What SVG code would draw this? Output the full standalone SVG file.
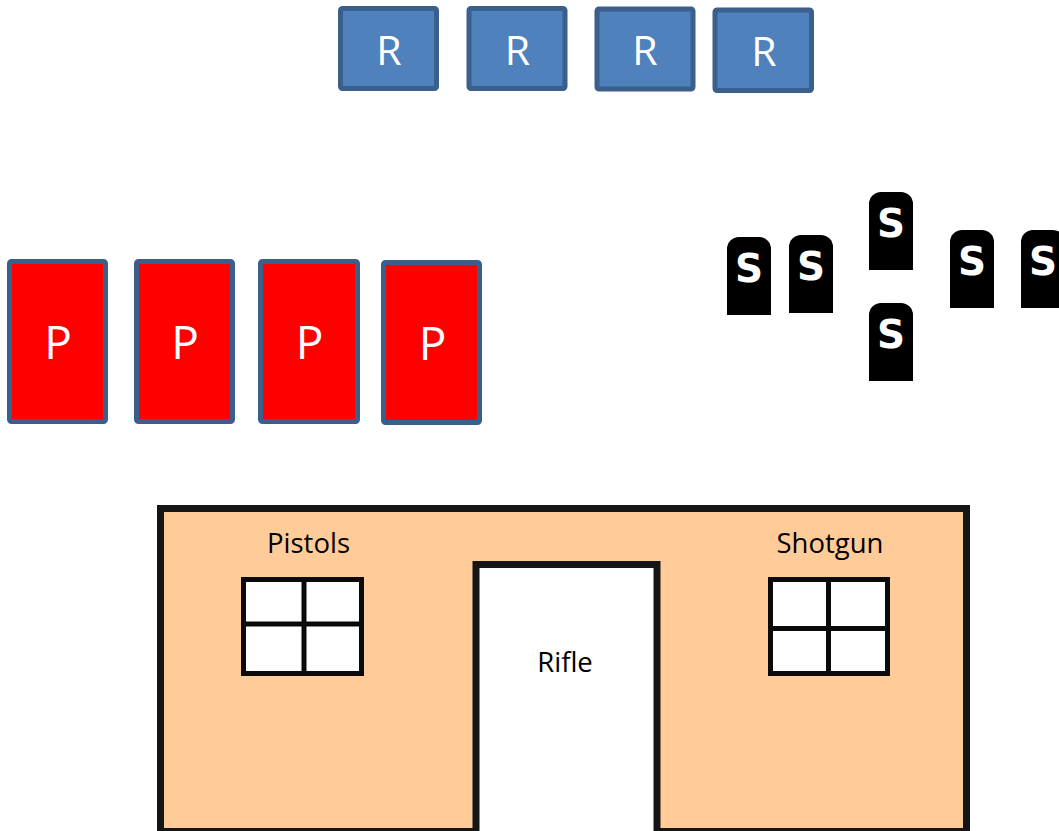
<svg xmlns="http://www.w3.org/2000/svg" width="1059" height="831" viewBox="0 0 1059 831">
  <style>
    .rbox { fill: #4F81BD; stroke: #3A5F8B; stroke-width: 5; }
    .pbox { fill: #FF0000; stroke: #3A5F8B; stroke-width: 5; }
    .rtxt { font-family: "Open Sans", "Liberation Sans", sans-serif; font-size: 41px; fill: #FFFFFF; text-anchor: middle; }
    .ptxt { font-family: "Open Sans", "Liberation Sans", sans-serif; font-size: 46px; fill: #FFFFFF; text-anchor: middle; }
    .stone { fill: #000000; }
    .stxt { font-family: "DejaVu Sans", "Liberation Sans", sans-serif; font-weight: bold; font-size: 39px; fill: #FFFFFF; text-anchor: middle; }
    .wall { fill: #FFCC99; stroke: #151515; stroke-width: 7; }
    .door { fill: #FFFFFF; stroke: #151515; stroke-width: 7; }
    .win { fill: #FFFFFF; stroke: #0A0A0A; stroke-width: 5; }
    .bar { stroke: #0A0A0A; stroke-width: 5; }
    .lbl { font-family: "Open Sans", "Liberation Sans", sans-serif; font-size: 27.5px; fill: #000000; text-anchor: middle; }
  </style>
  <defs>
    <!-- tombstone-shaped target with rounded top -->
    <path id="stoneShape" d="M0,78 V12 A12,12 0 0 1 12,0 H32 A12,12 0 0 1 44,12 V78 Z"/>
  </defs>

  <!-- rifle targets -->
  <g id="r1"><rect class="rbox" x="340.5" y="8.5" width="96" height="80" rx="2"/><text class="rtxt" x="389" y="65">R</text></g>
  <g id="r2"><rect class="rbox" x="469" y="8.5" width="96" height="80" rx="2"/><text class="rtxt" x="517.5" y="65">R</text></g>
  <g id="r3"><rect class="rbox" x="597" y="9" width="96" height="80" rx="2"/><text class="rtxt" x="645" y="65">R</text></g>
  <g id="r4"><rect class="rbox" x="715" y="10" width="96.5" height="80.5" rx="2"/><text class="rtxt" x="764" y="66">R</text></g>

  <!-- pistol targets -->
  <g id="p1"><rect class="pbox" x="9.5" y="261.5" width="96" height="160" rx="2"/><text class="ptxt" x="58" y="359">P</text></g>
  <g id="p2"><rect class="pbox" x="136.5" y="261.5" width="96" height="160" rx="2"/><text class="ptxt" x="185" y="359">P</text></g>
  <g id="p3"><rect class="pbox" x="260.5" y="261.5" width="97" height="160" rx="2"/><text class="ptxt" x="309.5" y="359">P</text></g>
  <g id="p4"><rect class="pbox" x="383.5" y="262.5" width="96" height="160" rx="2"/><text class="ptxt" x="432.5" y="360">P</text></g>

  <!-- shotgun targets -->
  <g id="s1"><use href="#stoneShape" class="stone" x="727" y="237"/><text class="stxt" x="749" y="282">S</text></g>
  <g id="s2"><use href="#stoneShape" class="stone" x="789" y="235"/><text class="stxt" x="811" y="280">S</text></g>
  <g id="s3"><use href="#stoneShape" class="stone" x="869" y="192"/><text class="stxt" x="891" y="237">S</text></g>
  <g id="s4"><use href="#stoneShape" class="stone" x="869" y="303"/><text class="stxt" x="891" y="348">S</text></g>
  <g id="s5"><use href="#stoneShape" class="stone" x="950" y="230"/><text class="stxt" x="972" y="275">S</text></g>
  <g id="s6"><use href="#stoneShape" class="stone" x="1021" y="230"/><text class="stxt" x="1043" y="275">S</text></g>

  <!-- firing building -->
  <g id="building">
    <rect class="wall" x="160.5" y="508.5" width="806" height="323"/>
    <rect class="door" x="476" y="564.5" width="181" height="280"/>
    <text class="lbl" x="565" y="672">Rifle</text>
    <text class="lbl" x="308.5" y="553">Pistols</text>
    <text class="lbl" x="830" y="553">Shotgun</text>
  </g>
  <g id="window-left">
    <rect class="win" x="243.5" y="579.5" width="118" height="94"/>
    <line class="bar" x1="304" y1="579.5" x2="304" y2="673.5"/>
    <line class="bar" x1="243.5" y1="624" x2="361.5" y2="624"/>
  </g>
  <g id="window-right">
    <rect class="win" x="770.5" y="579.5" width="117" height="94"/>
    <line class="bar" x1="828.5" y1="579.5" x2="828.5" y2="673.5"/>
    <line class="bar" x1="770.5" y1="628.5" x2="887.5" y2="628.5"/>
  </g>
  <g id="connectors"/>
</svg>
